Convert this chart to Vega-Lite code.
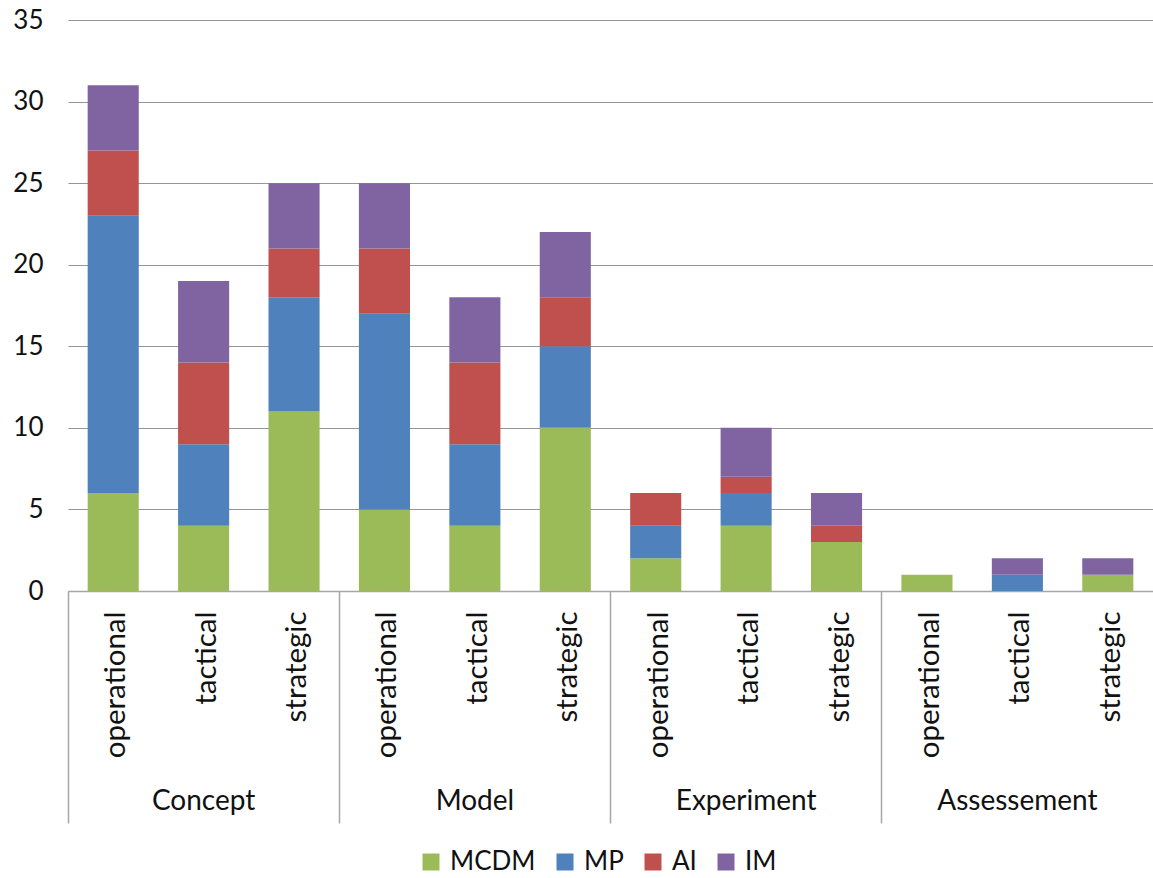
{
  "$schema": "https://vega.github.io/schema/vega-lite/v6.json",
  "width": 1085,
  "height": 571,
  "autosize": {"type": "none"},
  "padding": {"left": 68, "top": 20, "right": 0, "bottom": 287},
  "config": {
    "font": "Lato",
    "view": {"stroke": null},
    "axis": {"labelColor": "#111111", "labelFont": "Lato", "labelFontSize": 26, "labelFontWeight": "normal"},
    "legend": {"labelColor": "#111111", "labelFont": "Lato", "labelFontSize": 26}
  },
  "data": {
    "values": [
      {"cat": "Concept|operational", "method": "MCDM", "value": 6},
      {"cat": "Concept|operational", "method": "MP", "value": 17},
      {"cat": "Concept|operational", "method": "AI", "value": 4},
      {"cat": "Concept|operational", "method": "IM", "value": 4},
      {"cat": "Concept|tactical", "method": "MCDM", "value": 4},
      {"cat": "Concept|tactical", "method": "MP", "value": 5},
      {"cat": "Concept|tactical", "method": "AI", "value": 5},
      {"cat": "Concept|tactical", "method": "IM", "value": 5},
      {"cat": "Concept|strategic", "method": "MCDM", "value": 11},
      {"cat": "Concept|strategic", "method": "MP", "value": 7},
      {"cat": "Concept|strategic", "method": "AI", "value": 3},
      {"cat": "Concept|strategic", "method": "IM", "value": 4},
      {"cat": "Model|operational", "method": "MCDM", "value": 5},
      {"cat": "Model|operational", "method": "MP", "value": 12},
      {"cat": "Model|operational", "method": "AI", "value": 4},
      {"cat": "Model|operational", "method": "IM", "value": 4},
      {"cat": "Model|tactical", "method": "MCDM", "value": 4},
      {"cat": "Model|tactical", "method": "MP", "value": 5},
      {"cat": "Model|tactical", "method": "AI", "value": 5},
      {"cat": "Model|tactical", "method": "IM", "value": 4},
      {"cat": "Model|strategic", "method": "MCDM", "value": 10},
      {"cat": "Model|strategic", "method": "MP", "value": 5},
      {"cat": "Model|strategic", "method": "AI", "value": 3},
      {"cat": "Model|strategic", "method": "IM", "value": 4},
      {"cat": "Experiment|operational", "method": "MCDM", "value": 2},
      {"cat": "Experiment|operational", "method": "MP", "value": 2},
      {"cat": "Experiment|operational", "method": "AI", "value": 2},
      {"cat": "Experiment|tactical", "method": "MCDM", "value": 4},
      {"cat": "Experiment|tactical", "method": "MP", "value": 2},
      {"cat": "Experiment|tactical", "method": "AI", "value": 1},
      {"cat": "Experiment|tactical", "method": "IM", "value": 3},
      {"cat": "Experiment|strategic", "method": "MCDM", "value": 3},
      {"cat": "Experiment|strategic", "method": "AI", "value": 1},
      {"cat": "Experiment|strategic", "method": "IM", "value": 2},
      {"cat": "Assessement|operational", "method": "MCDM", "value": 1},
      {"cat": "Assessement|tactical", "method": "MP", "value": 1},
      {"cat": "Assessement|tactical", "method": "IM", "value": 1},
      {"cat": "Assessement|strategic", "method": "MCDM", "value": 1},
      {"cat": "Assessement|strategic", "method": "IM", "value": 1}
    ]
  },
  "transform": [
    {"calculate": "indexof(['MCDM','MP','AI','IM'], datum.method)", "as": "stackOrder"}
  ],
  "layer": [
    {
      "mark": {"type": "bar", "width": {"band": 0.565}},
      "encoding": {
        "x": {
          "field": "cat",
          "type": "nominal",
          "sort": ["Concept|operational", "Concept|tactical", "Concept|strategic", "Model|operational", "Model|tactical", "Model|strategic", "Experiment|operational", "Experiment|tactical", "Experiment|strategic", "Assessement|operational", "Assessement|tactical", "Assessement|strategic"],
          "scale": {"paddingInner": 0, "paddingOuter": 0},
          "axis": {
            "title": null,
            "orient": "bottom",
            "labelExpr": "split(datum.value, '|')[1]",
            "labelAngle": 270,
            "labelAlign": "right",
            "labelBaseline": "middle",
            "labelFontSize": 29.5,
            "labelPadding": 20,
            "labelOffset": 3,
            "labelOverlap": false,
            "ticks": false,
            "grid": false,
            "domain": true,
            "domainColor": "#a6a6a6",
            "domainWidth": 1.5
          }
        },
        "y": {
          "field": "value",
          "type": "quantitative",
          "stack": "zero",
          "scale": {"domain": [0, 35], "nice": false},
          "axis": {
            "title": null,
            "values": [0, 5, 10, 15, 20, 25, 30, 35],
            "grid": true,
            "gridColor": "#959595",
            "gridWidth": 1.2,
            "domain": false,
            "ticks": false,
            "labelPadding": 25
          }
        },
        "color": {
          "field": "method",
          "type": "nominal",
          "scale": {"domain": ["MCDM", "MP", "AI", "IM"], "range": ["#9BBB59", "#4F81BD", "#C0504D", "#8064A2"]},
          "legend": {
            "title": null,
            "orient": "none",
            "direction": "horizontal",
            "legendX": 350,
            "legendY": 829,
            "symbolType": "square",
            "symbolSize": 289,
            "symbolStrokeWidth": 0,
            "labelOffset": 6,
            "columnPadding": 16
          }
        },
        "order": {"field": "stackOrder", "type": "quantitative"}
      }
    },
    {
      "mark": {"type": "tick", "opacity": 0},
      "encoding": {
        "x": {
          "field": "cat",
          "type": "nominal",
          "sort": ["Concept|operational", "Concept|tactical", "Concept|strategic", "Model|operational", "Model|tactical", "Model|strategic", "Experiment|operational", "Experiment|tactical", "Experiment|strategic", "Assessement|operational", "Assessement|tactical", "Assessement|strategic"],
          "axis": {
            "title": null,
            "orient": "bottom",
            "labelExpr": "split(datum.value, '|')[1] == 'tactical' ? split(datum.value, '|')[0] : ''",
            "labelAngle": 0,
            "labelAlign": "center",
            "labelBaseline": "middle",
            "labelFontSize": 28,
            "labelPadding": -22,
            "labelOverlap": false,
            "domain": false,
            "grid": false,
            "ticks": true,
            "bandPosition": 0,
            "tickSize": 232,
            "tickColor": "#a6a6a6",
            "tickWidth": 1.5,
            "tickOpacity": {"condition": {"test": "indexof(datum.value, 'operational') >= 0", "value": 1}, "value": 0}
          }
        }
      }
    }
  ],
  "resolve": {"axis": {"x": "independent"}}
}
